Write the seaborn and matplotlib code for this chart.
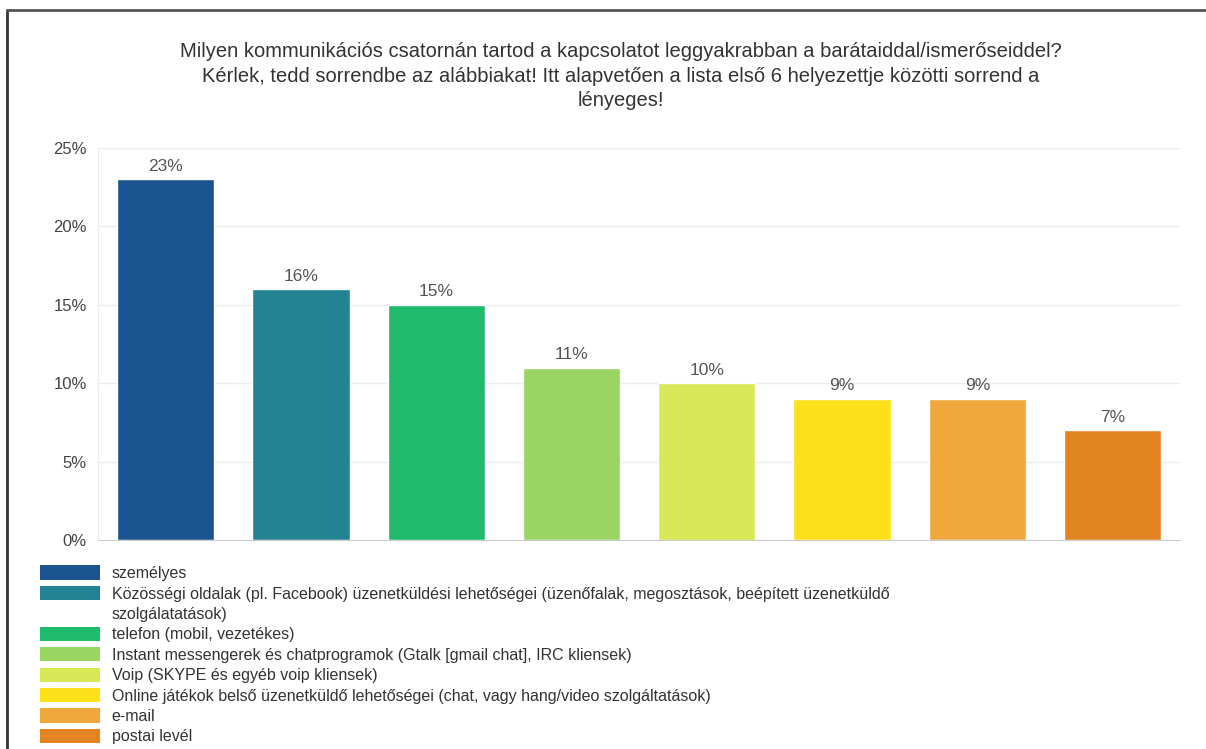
import matplotlib
matplotlib.use("Agg")
import matplotlib.pyplot as plt
import seaborn as sns
import pandas as pd
from matplotlib.patches import Patch
from matplotlib.lines import Line2D

title = ("Milyen kommunikációs csatornán tartod a kapcsolatot leggyakrabban a barátaiddal/ismerőseiddel?\n"
         "Kérlek, tedd sorrendbe az alábbiakat! Itt alapvetően a lista első 6 helyezettje közötti sorrend a\n"
         "lényeges!")

categories = [
    "személyes",
    "Közösségi oldalak (pl. Facebook) üzenetküldési lehetőségei (üzenőfalak, megosztások, beépített üzenetküldő\nszolgálatatások)",
    "telefon (mobil, vezetékes)",
    "Instant messengerek és chatprogramok (Gtalk [gmail chat], IRC kliensek)",
    "Voip (SKYPE és egyéb voip kliensek)",
    "Online játékok belső üzenetküldő lehetőségei (chat, vagy hang/video szolgáltatások)",
    "e-mail",
    "postai levél",
]
values = [23, 16, 15, 11, 10, 9, 9, 7]
colors = ["#1b5290", "#238393", "#1fbb6d", "#9ad462", "#d8e857", "#fde21b", "#f0a83e", "#e38422"]
yticks = [0, 5, 10, 15, 20, 25]

df = pd.DataFrame({"cat": categories, "val": values})

sns.set_style("white")
plt.rcParams["font.family"] = ["Liberation Sans", "DejaVu Sans"]

fig = plt.figure(figsize=(12.06, 7.49), dpi=100)
ax = fig.add_axes([0.0813, 0.279, 0.8973, 0.5234])

sns.barplot(data=df, x="cat", y="val", hue="cat", palette=colors, width=0.72,
            legend=False, ax=ax, saturation=1)

ax.set_ylim(0, 25)
ax.set_xlim(-0.5, len(values) - 0.5)
ax.set_yticks(yticks)
ax.set_yticklabels([f"{t}%" for t in yticks], fontsize=12, color="#444444")
ax.set_xticks([])
ax.set_xlabel("")
ax.set_ylabel("")
ax.grid(axis="y", color="#ebebeb", linewidth=1)
ax.set_axisbelow(True)
for s in ["top", "right"]:
    ax.spines[s].set_visible(False)
ax.spines["left"].set_color("#ebebeb")
ax.spines["bottom"].set_color("#cccccc")
ax.tick_params(axis="y", length=6, color="#ebebeb", pad=2)

for c in ax.containers:
    ax.bar_label(c, fmt="%d%%", fontsize=12.5, color="#555555", padding=4)

fig.text(0.515, 0.944, title, ha="center", va="top", fontsize=14.5,
         color="#333333", linespacing=1.38)

# legend: wrapped labels continue on a row without a swatch
handles, labels = [], []
for col, cat in zip(colors, categories):
    for i, part in enumerate(cat.split("\n")):
        handles.append(Patch(facecolor=col if i == 0 else "none", edgecolor="none"))
        labels.append(part)
fig.legend(handles, labels, loc="upper left", bbox_to_anchor=(0.033, 0.245),
           frameon=False, fontsize=11.5, handlelength=3.8, handleheight=1.0,
           handletextpad=0.7, labelspacing=0.3, borderaxespad=0, borderpad=0,
           labelcolor="#333333")

# frame lines of the original screenshot
fig.add_artist(Line2D([7 / 1206, 7 / 1206], [0, 1 - 10 / 749], color="#333333", linewidth=2))
fig.add_artist(Line2D([7 / 1206, 1], [1 - 10 / 749, 1 - 10 / 749], color="#555555", linewidth=2))

fig.savefig("out.png", dpi=100)
